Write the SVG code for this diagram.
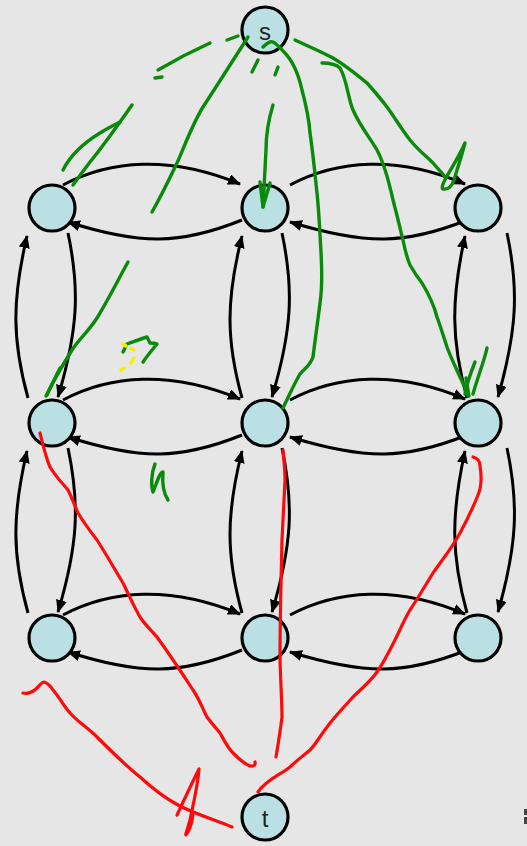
<svg xmlns="http://www.w3.org/2000/svg" width="527" height="846" viewBox="0 0 527 846">
  <defs>
    <marker id="arrow" markerUnits="userSpaceOnUse" markerWidth="13" markerHeight="11" refX="12" refY="5.5" orient="auto">
      <path d="M0,0 L13,5.5 L0,11 z" fill="#000"/>
    </marker>
    <style>
      .node circle { fill: #bbe0e3; stroke: #000; stroke-width: 3.2; }
      .node text { font-family: "Liberation Sans", Arial, sans-serif; font-size: 24px; fill: #222; text-anchor: middle; dominant-baseline: central; }
      .edge { fill: none; stroke: #000; stroke-width: 3; marker-end: url(#arrow); }
      .green { fill: none; stroke: #0a8a0a; stroke-width: 3.4; stroke-linecap: round; stroke-linejoin: round; }
      .red { fill: none; stroke: #ff0a0a; stroke-width: 3.2; stroke-linecap: round; stroke-linejoin: round; }
      .yellow { fill: none; stroke: #f5f000; stroke-width: 3.4; stroke-linecap: round; }
    </style>
  </defs>

  <rect width="527" height="846" fill="#e6e6e6"/>

  <!-- grid edges -->
  <g id="connectors">
    <!-- top row horizontals -->
    <path class="edge" d="M63,185 C110,160 170,155 240,184"/>
    <path class="edge" d="M242,220 C180,245 140,245 68,222"/>
    <path class="edge" d="M290,185 C337,160 397,155 465,184"/>
    <path class="edge" d="M467,220 C405,245 365,245 290,222"/>
    <!-- middle row horizontals -->
    <path class="edge" d="M63,400 C110,375 170,370 240,399"/>
    <path class="edge" d="M242,435 C180,460 140,460 68,437"/>
    <path class="edge" d="M290,400 C337,375 397,370 465,399"/>
    <path class="edge" d="M467,435 C405,460 365,460 290,437"/>
    <!-- bottom row horizontals -->
    <path class="edge" d="M63,615 C110,590 170,585 240,614"/>
    <path class="edge" d="M242,650 C180,675 140,675 68,652"/>
    <path class="edge" d="M290,615 C337,590 397,585 465,614"/>
    <path class="edge" d="M467,650 C405,675 365,675 290,652"/>
    <!-- verticals between top and middle rows -->
    <path class="edge" d="M28,398 C12,340 12,300 27,236"/>
    <path class="edge" d="M68,233 C80,290 78,330 58,397"/>
    <path class="edge" d="M242,398 C226,340 226,300 242,236"/>
    <path class="edge" d="M282,233 C294,290 292,330 272,397"/>
    <path class="edge" d="M467,398 C451,340 451,300 465,236"/>
    <path class="edge" d="M507,233 C519,290 517,330 498,397"/>
    <!-- verticals between middle and bottom rows -->
    <path class="edge" d="M28,613 C12,555 12,515 27,451"/>
    <path class="edge" d="M68,448 C80,505 78,545 58,612"/>
    <path class="edge" d="M242,613 C226,555 226,515 242,451"/>
    <path class="edge" d="M282,448 C294,505 292,545 272,612"/>
    <path class="edge" d="M467,613 C451,555 451,515 465,451"/>
    <path class="edge" d="M507,448 C519,505 517,545 498,612"/>
  </g>

  <!-- nodes -->
  <g id="s" class="node"><circle cx="265" cy="30" r="23"/><text x="265" y="31">s</text></g>
  <g id="n11" class="node"><circle cx="52" cy="208" r="23"/></g>
  <g id="n12" class="node"><circle cx="265" cy="208" r="23"/></g>
  <g id="n13" class="node"><circle cx="478" cy="208" r="23"/></g>
  <g id="n21" class="node"><circle cx="52" cy="423" r="23"/></g>
  <g id="n22" class="node"><circle cx="265" cy="423" r="23"/></g>
  <g id="n23" class="node"><circle cx="478" cy="423" r="23"/></g>
  <g id="n31" class="node"><circle cx="52" cy="638" r="23"/></g>
  <g id="n32" class="node"><circle cx="265" cy="638" r="23"/></g>
  <g id="n33" class="node"><circle cx="478" cy="638" r="23"/></g>
  <g id="t" class="node"><circle cx="265" cy="817" r="23"/><text x="265" y="818">t</text></g>

  <!-- green pen strokes -->
  <g id="green-ink">
    <path class="green" d="M227,40 L238,36"/>
    <path class="green" d="M210,43 C190,52 175,60 158,70"/>
    <path class="green" d="M155,78 L162,77"/>
    <path class="green" d="M63,170 C70,156 82,144 100,133 C108,128 114,125 120,122 L132,105"/>
    <path class="green" d="M120,122 C110,136 100,150 90,162 C84,170 78,178 73,185"/>
    <path class="green" d="M248,37 C232,62 218,84 203,107 C192,125 185,145 177,163 C168,182 160,198 152,212"/>
    <path class="green" d="M128,262 C118,280 108,300 97,318 C88,332 80,338 72,350 C62,366 54,380 46,396"/>
    <path class="green" d="M60,368 C55,378 51,386 47,395"/>
    <path class="green" d="M252,72 L258,60"/>
    <path class="green" d="M278,67 L275,75"/>
    <path class="green" d="M273,105 C269,118 266,133 266,150 C265,170 264,190 263,207"/>
    <path class="green" d="M260,182 L263,207 L270,183"/>
    <path class="green" d="M263,47 C266,44 270,41 273,42 C277,44 280,48 284,52 C292,60 298,72 302,90 C306,105 309,118 310,133 C313,153 315,175 317,193 C319,212 320,235 321,252 C322,270 322,290 320,303 C318,320 315,340 313,357 C310,366 305,368 300,374 C294,384 289,396 283,408"/>
    <path class="green" d="M295,40 C310,47 322,52 333,58 C345,65 356,74 367,83 C375,92 381,99 387,107 C395,118 402,130 410,140 C418,150 426,156 433,163 C438,169 442,173 446,178"/>
    <path class="green" stroke-width="4.2" d="M465,143 C460,155 452,167 447,176 C443,183 441,188 443,189 C448,190 452,186 454,180 C457,170 461,158 465,143"/>
    <path class="green" d="M322,63 C330,63 336,64 340,68 C347,80 348,98 353,110 C360,126 370,138 377,150 C385,165 389,182 393,200 C397,215 400,228 403,240 C405,250 407,258 410,265 C414,272 418,278 422,283 C428,293 434,305 437,317 C441,328 444,338 447,347 C451,358 456,368 460,377 C463,383 466,390 468,396"/>
    <path class="green" d="M487,348 C484,362 478,376 473,394"/>
    <path class="green" d="M475,362 C471,372 467,382 465,394"/>
    <path class="green" d="M466,378 L469,396"/>
    <path class="green" d="M123,352 L127,344 C133,342 140,339 147,337 L150,343 C153,343 155,343 157,344 C152,350 147,356 143,362"/>
    <path class="green" d="M155,464 C151,474 151,486 153,492 C157,482 160,472 163,472 C162,484 164,494 168,500"/>
  </g>

  <!-- yellow pen marks -->
  <g id="yellow-ink">
    <path class="yellow" d="M123,344 L126,346"/>
    <path class="yellow" d="M131,349 L134,350"/>
    <path class="yellow" d="M134,358 L131,363"/>
    <path class="yellow" d="M121,370 L124,368"/>
  </g>

  <!-- red pen strokes -->
  <g id="red-ink">
    <path class="red" d="M40,433 C43,445 46,458 50,467 C56,477 63,484 68,490 C72,498 75,506 78,513 C84,523 90,531 97,540 C106,554 114,568 123,583 C129,595 134,607 140,617 C146,626 152,631 157,637 C170,655 180,670 193,690 C200,700 203,710 207,717 C212,724 216,728 220,733 C225,742 228,748 233,753 C238,758 243,763 248,765 C252,767 256,766 255,762"/>
    <path class="red" d="M283,450 C284,460 285,470 285,480 C284,500 283,520 282,540 C281,580 280,620 280,660 C281,690 282,705 282,717 C280,733 278,745 276,757"/>
    <path class="red" d="M473,457 C477,458 480,461 480,466 C482,478 481,488 478,495 C472,510 466,522 460,533 C452,548 442,560 433,573 C425,586 418,598 410,610 C404,620 400,630 395,640 C389,652 384,662 377,672 C370,682 360,690 353,697 C345,706 335,716 327,727 C320,736 316,744 310,750 C303,756 296,761 290,767 C280,775 266,780 258,792"/>
    <path class="red" d="M23,693 C28,694 33,692 37,688 C40,685 42,682 44,682 C47,683 50,685 53,690 C60,698 65,708 70,713 C78,722 88,728 97,737 C110,750 125,765 140,777 C152,788 165,798 178,805 C195,814 215,820 232,827"/>
    <path class="red" d="M177,815 C184,800 191,785 199,769 C198,785 193,805 190,820 C188,828 185,835 186,835 C190,830 192,822 193,815"/>
  </g>

  <!-- fragment at the right margin -->
  <rect x="524" y="809" width="3" height="6" fill="#444"/>
  <rect x="524" y="817" width="3" height="7" fill="#444"/>
</svg>
